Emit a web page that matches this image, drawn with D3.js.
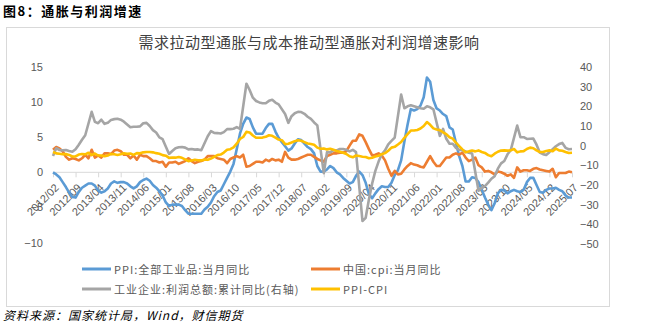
<!DOCTYPE html>
<html><head><meta charset="utf-8">
<script src="https://cdn.jsdelivr.net/npm/d3@7/dist/d3.min.js"></script>
<style>
html,body{margin:0;padding:0;background:#fff;}
svg{display:block;font-family:"Noto Sans CJK SC","Noto Sans",sans-serif;}
</style></head>
<body><svg id="c" width="649" height="324"></svg>
<script>
// ---- data (monthly, 2012/02 .. 2025/07) ----
const startMonth = "2012-02";
const endMonth = "2025-07";
const tickLabels = ["2012/02","2012/09","2013/04","2013/11","2014/06","2015/01","2015/08","2016/03","2016/10","2017/05","2017/12","2018/07","2019/02","2019/09","2020/04","2020/11","2021/06","2022/01","2022/08","2023/03","2023/10","2024/05","2024/12","2025/07"];
const leftTicks = [15,10,5,0,-5,-10];
const rightTicks = [40,30,20,10,0,-10,-20,-30,-40,-50];
const seriesNames = ["PPI:全部工业品:当月同比","中国:cpi:当月同比","工业企业:利润总额:累计同比(右轴)","PPI-CPI"];

const ppi = [
 0.0,-0.3,-0.7,-1.4,-2.1,-2.9,-3.5,-3.6,-2.8,-2.2,-1.9,
 -1.6,-1.6,-1.9,-2.6,-2.9,-2.7,-2.3,-1.6,-1.3,-1.5,-1.4,-1.4,
 -1.6,-2.0,-2.3,-2.0,-1.4,-1.1,-0.9,-1.2,-1.8,-2.2,-2.7,-3.3,
 -4.3,-4.8,-4.6,-4.6,-4.6,-4.8,-5.4,-5.9,-5.9,-5.9,-5.9,-5.9,
 -5.3,-4.9,-4.3,-3.4,-2.8,-2.6,-1.7,-0.8,0.1,1.2,3.3,5.5,
 6.9,7.8,7.6,6.4,5.5,5.5,5.5,6.3,6.9,6.9,5.8,4.9,
 4.3,3.7,3.1,3.4,4.1,4.7,4.6,4.1,3.6,3.3,2.7,0.9,
 0.1,0.1,0.4,0.9,0.6,0.0,-0.3,-0.8,-1.2,-1.6,-1.4,-0.5,
 0.1,-0.4,-1.5,-3.1,-3.7,-3.0,-2.4,-2.0,-2.1,-2.1,-1.5,-0.4,
 0.3,1.7,4.4,6.8,9.0,8.8,9.0,9.5,10.7,13.5,12.9,10.3,
 9.1,8.8,8.3,8.0,6.4,6.1,4.2,2.3,0.9,-1.3,-1.3,-0.7,
 -0.8,-1.4,-2.5,-3.6,-4.6,-5.4,-4.4,-3.0,-2.5,-2.6,-3.0,-2.7,
 -2.5,-2.7,-2.8,-2.5,-1.4,-0.8,-0.8,-1.8,-2.8,-2.9,-2.5,-2.3,
 -2.3,-2.2,-2.5,-2.7,-3.3,-3.6,-3.6];
const cpi = [
 3.2,3.6,3.4,3.0,2.2,1.8,2.0,1.9,1.7,2.0,2.5,
 2.0,3.2,2.1,2.4,2.1,2.7,2.7,2.6,3.1,3.2,3.0,2.5,
 2.5,2.0,2.4,1.8,2.5,2.3,2.3,2.0,1.6,1.6,1.4,1.5,
 0.8,1.4,1.4,1.5,1.2,1.4,1.6,2.0,1.6,1.3,1.5,1.6,
 1.8,2.3,2.3,2.3,2.0,1.9,1.8,1.3,1.9,2.1,2.3,2.1,
 2.5,0.8,0.9,1.2,1.5,1.5,1.4,1.8,1.6,1.9,1.7,1.8,
 1.5,2.9,2.1,1.8,1.8,1.9,2.1,2.3,2.5,2.5,2.2,1.9,
 1.7,1.5,2.3,2.5,2.7,2.7,2.8,2.8,3.0,3.8,4.5,4.5,
 5.4,5.2,4.3,3.3,2.4,2.5,2.7,2.4,1.7,0.5,-0.5,0.2,
 -0.3,-0.2,0.4,0.9,1.3,1.1,1.0,0.8,0.7,1.5,2.3,1.5,
 0.9,0.9,1.5,2.1,2.1,2.5,2.7,2.5,2.8,2.1,1.6,1.8,
 2.1,1.0,0.7,0.1,0.2,0.0,-0.3,0.1,0.0,-0.2,-0.5,-0.3,
 -0.8,0.7,0.1,0.3,0.3,0.2,0.5,0.6,0.4,0.3,0.2,0.1,
 0.5,-0.7,-0.1,-0.1,-0.1,0.1,0.0];
const profit = [
 -5.2,-1.3,-2.2,-2.4,-2.2,-2.7,-3.1,-1.8,0.5,3.0,5.3,
 null,17.2,12.1,11.4,13.2,11.1,11.6,13.1,13.5,13.7,13.2,12.2,
 null,9.4,9.6,9.6,9.8,11.4,11.6,10.0,7.9,6.7,4.2,3.3,
 null,-4.2,-2.7,-1.3,-0.8,-0.7,-1.0,-1.9,-1.7,-2.0,-1.9,-2.3,
 null,4.8,7.4,6.5,6.4,6.2,6.9,8.4,8.4,8.6,9.4,8.5,
 null,31.5,28.3,24.4,22.7,22.0,21.6,21.6,22.8,23.3,21.9,21.0,
 null,16.1,11.6,15.0,16.5,17.2,17.1,16.2,14.7,13.6,11.8,10.3,
 null,-14.0,-3.3,-3.4,-2.3,-2.4,-1.7,-1.7,-2.1,-2.9,-2.1,-3.3,
 null,-38.3,-36.7,-27.4,-19.3,-12.8,-8.1,-4.4,-2.4,0.7,2.4,4.1,
 null,26.0,19.0,20.0,20.5,20.0,19.5,19.0,18.8,20.0,19.5,18.5,
 null,5.0,8.5,3.5,1.0,1.0,-1.1,-2.1,-2.3,-3.0,-3.6,-4.0,
 null,-22.9,-21.4,-20.6,-18.8,-16.8,-15.5,-11.7,-9.0,-7.8,-4.4,-2.3,
 null,10.2,4.3,4.3,3.4,3.5,3.6,0.5,-3.5,-4.3,-4.7,-3.3,
 null,-0.3,0.8,1.4,-1.1,-1.8,-1.7];
const ppiCpi = [
 -3.2,-3.9,-4.1,-4.4,-4.3,-4.7,-5.5,-5.5,-4.5,-4.2,-4.4,
 -3.6,-4.8,-4.0,-5.0,-5.0,-5.4,-5.0,-4.2,-4.4,-4.7,-4.4,-3.9,
 -4.1,-4.0,-4.7,-3.8,-3.9,-3.4,-3.2,-3.2,-3.4,-3.8,-4.1,-4.8,
 -5.1,-6.2,-6.0,-6.1,-5.8,-6.2,-7.0,-7.9,-7.5,-7.2,-7.4,-7.5,
 -7.1,-7.2,-6.6,-5.7,-4.8,-4.5,-3.5,-2.1,-1.8,-0.9,1.0,3.4,
 4.4,7.0,6.7,5.2,4.0,4.0,4.1,4.5,5.3,5.0,4.1,3.1,
 2.8,0.8,1.0,1.6,2.3,2.8,2.5,1.8,1.1,0.8,0.5,-1.0,
 -1.6,-1.4,-1.9,-1.6,-2.1,-2.7,-3.1,-3.6,-4.2,-5.4,-5.9,-5.0,
 -5.3,-5.6,-5.8,-6.4,-6.1,-5.5,-5.1,-4.4,-3.8,-2.6,-1.0,-0.6,
 0.6,1.9,4.0,5.9,7.7,7.7,8.0,8.7,10.0,12.0,10.6,8.8,
 8.2,7.9,6.8,5.9,4.3,3.6,1.5,-0.2,-1.9,-3.4,-2.9,-2.5,
 -2.9,-2.4,-3.2,-3.7,-4.8,-5.4,-4.1,-3.1,-2.5,-2.4,-2.5,-2.4,
 -1.7,-3.4,-2.9,-2.8,-1.7,-1.0,-1.3,-2.4,-3.2,-3.2,-2.7,-2.4,
 -2.8,-1.5,-2.4,-2.6,-3.2,-3.7,-3.6];

// ---- categories ----
const fmt = d3.timeFormat("%Y/%m");
const parse = d3.timeParse("%Y-%m");
const months = d3.timeMonth.range(parse(startMonth), d3.timeMonth.offset(parse(endMonth),1)).map(fmt);

const svg = d3.select("#c");
const colors = ["#5B9BD5","#ED7D31","#A5A5A5","#FFC000"];
const txt = "#595959";

// outer frame
svg.append("rect").attr("x",6.5).attr("y",27.5).attr("width",603).attr("height",279)
  .attr("fill","none").attr("stroke","#d9d9d9").attr("stroke-width",1);

// titles
svg.append("text").attr("x",3).attr("y",16).attr("font-size",13).attr("font-weight","bold")
  .attr("letter-spacing","1.5px").attr("fill","#000").text("图8：通胀与利润增速");
svg.append("text").attr("x",309).attr("y",48).attr("text-anchor","middle").attr("font-size",15)
  .attr("letter-spacing","0.5px").attr("fill","#404040").text("需求拉动型通胀与成本推动型通胀对利润增速影响");

// scales
const x = d3.scalePoint().domain(months).range([53,572]);
const yL = d3.scaleLinear().domain([-10,15]).range([242.5,67]);
const yR = d3.scaleLinear().domain([-50,40]).range([244,67]);

// left axis labels
const gL = svg.append("g").attr("transform","translate(43,0)")
  .call(d3.axisLeft(yL).tickValues(leftTicks).tickSize(0).tickPadding(0));
gL.select(".domain").remove();
gL.selectAll("text").attr("font-size",11).attr("fill",txt).attr("font-family","Liberation Sans, Arial, sans-serif");

// right axis labels
const gR = svg.append("g").attr("transform","translate(580,0)")
  .call(d3.axisRight(yR).tickValues(rightTicks).tickSize(0).tickPadding(0));
gR.select(".domain").remove();
gR.selectAll("text").attr("font-size",11).attr("fill",txt).attr("font-family","Liberation Sans, Arial, sans-serif");

// x axis at y=0
const y0 = yL(0);
const gX = svg.append("g").attr("transform",`translate(0,${y0})`)
  .call(d3.axisBottom(x).tickValues(tickLabels).tickSize(5).tickPadding(0));
gX.select(".domain").attr("stroke","#d9d9d9").attr("d",`M${x(months[0])},0H${x(months[months.length-1])}`);
gX.selectAll(".tick line").attr("stroke","#d9d9d9");
gX.selectAll(".tick text")
  .attr("font-size",11).attr("fill",txt).attr("font-family","Liberation Sans, Arial, sans-serif")
  .attr("text-anchor","end").attr("dy",null).attr("y",null)
  .attr("transform","translate(4,14) rotate(-45)")
  .attr("dominant-baseline","middle");

// lines
const mk = (arr, ys) => months.map((m,i)=>({m, v:arr[i]})).filter(d=>d.v!==null && d.v!==undefined);
const line = ys => d3.line().x(d=>x(d.m)).y(d=>ys(d.v));
const series = [[ppi,yL],[cpi,yL],[profit,yR],[ppiCpi,yR]];
series.forEach(([arr,ys],k)=>{
  svg.append("path").datum(mk(arr,ys)).attr("d",line(ys)).attr("fill","none")
    .attr("stroke",colors[k]).attr("stroke-width",2.6).attr("stroke-linejoin","round");
});

// legend
const legPos = [[82,269],[311,269],[82,289],[311,289]];
seriesNames.forEach((n,k)=>{
  const [lx,ly] = legPos[k];
  svg.append("line").attr("x1",lx).attr("x2",lx+29).attr("y1",ly).attr("y2",ly)
    .attr("stroke",colors[k]).attr("stroke-width",3);
  svg.append("text").attr("x",lx+32).attr("y",ly).attr("dominant-baseline","central")
    .attr("font-size",11).attr("letter-spacing","1px").attr("fill",txt).text(n);
});

// source
svg.append("text").attr("x",3).attr("y",320).attr("font-size",12).attr("font-style","italic")
  .attr("letter-spacing","1px").attr("fill","#000").text("资料来源：国家统计局，Wind，财信期货");
</script></body></html>
